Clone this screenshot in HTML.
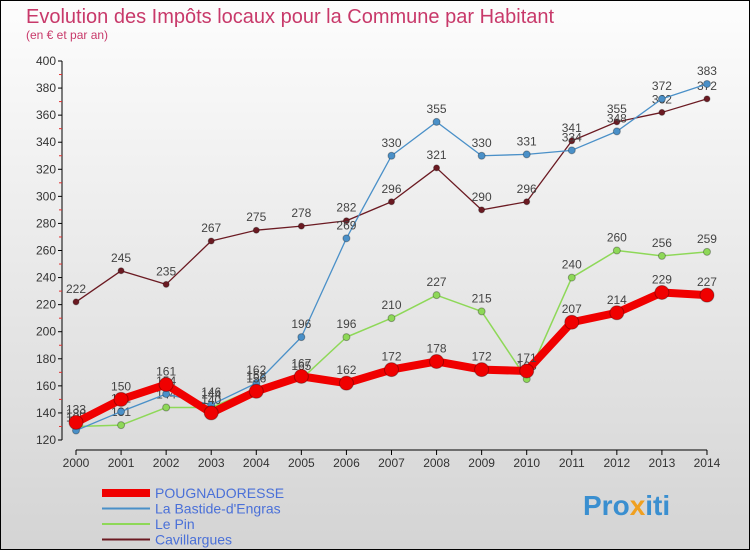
<!DOCTYPE html>
<html><head><meta charset="utf-8"><style>
body{margin:0;width:750px;height:550px;overflow:hidden;font-family:"Liberation Sans",sans-serif}
svg{display:block}
</style></head><body>
<svg id="c" width="750" height="550">
<defs><linearGradient id="bg" x1="0" y1="0" x2="0" y2="1"><stop offset="0" stop-color="#fdfdfd"/><stop offset="1" stop-color="#d4d4d4"/></linearGradient></defs>
<rect x="0.5" y="0.5" width="749" height="549" fill="url(#bg)" stroke="#000"/>
<text x="26" y="23" font-size="20" fill="#c8396a">Evolution des Impôts locaux pour la Commune par Habitant</text>
<text x="26" y="39" font-size="12" fill="#c8396a">(en € et par an)</text>
<g id="axes"></g><g id="series"></g><g id="legend"></g>
<text x="583" y="515" font-size="28" font-weight="bold" fill="#3a8fd0">Pro<tspan fill="#f0a020">x</tspan>iti</text>
</svg>
<script>
const years=[2000,2001,2002,2003,2004,2005,2006,2007,2008,2009,2010,2011,2012,2013,2014];
const yTicks=[120,140,160,180,200,220,240,260,280,300,320,340,360,380,400];
const pougna=[133,150,161,140,156,167,162,172,178,172,171,207,214,229,227];
const bastide=[127,141,154,146,162,196,269,330,355,330,331,334,348,372,383];
const lepin=[130,131,144,144,158,165,196,210,227,215,165,240,260,256,259];
const cavill=[222,245,235,267,275,278,282,296,321,290,296,341,355,362,372];
const NS="http://www.w3.org/2000/svg";
const X=y=>76+(y-2000)*45.07, Y=v=>440-(v-120)*(379/280);
function el(t,a,p){const e=document.createElementNS(NS,t);for(const k in a)e.setAttribute(k,a[k]);p.appendChild(e);return e;}
const ax=document.getElementById('axes');
let e=el('line',{x1:62,y1:61,x2:62,y2:440,stroke:'#000'},ax);

e=el('line',{x1:76,y1:450,x2:707,y2:450,stroke:'#000'},ax);

yTicks.forEach(v=>{el('line',{x1:58,y1:Y(v),x2:62,y2:Y(v),stroke:'#000'},ax);
 if(v<400)el('line',{x1:59,y1:Y(v+10),x2:62,y2:Y(v+10),stroke:'#e03030'},ax);
 const t=el('text',{x:56,y:Y(v)+4,'font-size':12,'text-anchor':'end',fill:'#333'},ax);t.textContent=v;
 });
years.forEach(y=>{el('line',{x1:X(y),y1:450,x2:X(y),y2:455,stroke:'#000'},ax);
 const t=el('text',{x:X(y),y:467,'font-size':12,'text-anchor':'middle',fill:'#333'},ax);t.textContent=y;
 });
const sg=document.getElementById('series');
function series(vals,color,w,r,name){
 const g=el('g',{},sg);
 el('polyline',{points:vals.map((v,i)=>X(years[i])+','+Y(v)).join(' '),fill:'none',stroke:color,'stroke-width':w,'stroke-linejoin':'round'},g);
 vals.forEach((v,i)=>{const c=el('circle',{cx:X(years[i]),cy:Y(v),r:r,fill:color,stroke:'rgba(0,0,0,0.3)'},g);
  
  const t=el('text',{x:X(years[i]),y:Y(v)-9,'font-size':12,'text-anchor':'middle',fill:'#444'},g);t.textContent=v;
  });
}
series(cavill,'#6b1a22',1.3,3,'cavillargues-series');
series(lepin,'#8ed858',1.5,3.5,'le-pin-series');
series(bastide,'#4a90c8',1.3,3.5,'bastide-series');
series(pougna,'#f00000',8,7,'pougnadoresse-series');
const lg=document.getElementById('legend');
[['POUGNADORESSE','#f00000',8],['La Bastide-d\'Engras','#4a90c8',2],['Le Pin','#8ed858',2],['Cavillargues','#6b1a22',2]].forEach((d,i)=>{
 const g=el('g',{},lg);
 const y=493+i*15.5;
 el('line',{x1:102,y1:y,x2:150,y2:y,stroke:d[1],'stroke-width':d[2]},g);
 const t=el('text',{x:155,y:y+5,'font-size':14,fill:'#4a70d8'},g);t.textContent=d[0];
});
</script>
</body></html>
